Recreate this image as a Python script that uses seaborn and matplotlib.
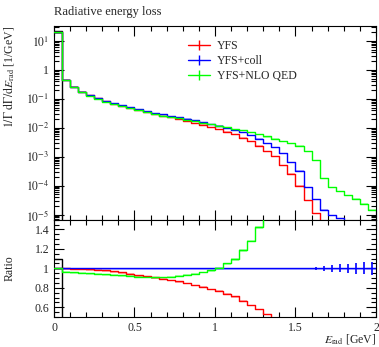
import numpy as np
import pandas as pd
import matplotlib
matplotlib.use("Agg")
import matplotlib.pyplot as plt
from matplotlib.ticker import MultipleLocator, LogLocator, FuncFormatter, NullFormatter
from matplotlib.lines import Line2D
import seaborn as sns

# 40 bins of 0.05 GeV in radiated energy
bin_edges = np.round(np.linspace(0.0, 2.0, 41), 2)

# 1/Gamma dGamma/dE_rad [1/GeV] per bin
yfs = [19.5, 0.46, 0.264, 0.177, 0.1337, 0.1034, 0.0813, 0.0679, 0.0576, 0.0482,
       0.0409, 0.0350, 0.0299, 0.0259, 0.0229, 0.0199, 0.0174, 0.0149, 0.0128, 0.0107,
       0.0091, 0.0074, 0.0059, 0.0046, 0.00347, 0.00244, 0.00159, 0.00103, 5.0e-4, 2.6e-4,
       1.0e-4, 3.2e-5, 1.1e-5, 0, 0, 0, 0, 0, 0, 0]
yfs_coll = [19.5, 0.46, 0.265, 0.178, 0.135, 0.105, 0.083, 0.070, 0.060, 0.051,
            0.044, 0.038, 0.033, 0.029, 0.026, 0.023, 0.0205, 0.018, 0.0158, 0.0136,
            0.0118, 0.0100, 0.0083, 0.0069, 0.0056, 0.0042, 0.0030, 0.0021, 0.0013, 6.6e-4,
            3.3e-4, 9.0e-5, 3.5e-5, 1.5e-5, 9.5e-6, 7.5e-6, 5.0e-6, 4.0e-6, 3.0e-6, 2.0e-6]
yfs_nlo = [19.5, 0.444, 0.254, 0.170, 0.128, 0.0992, 0.0780, 0.0655, 0.0558, 0.0472,
           0.0403, 0.0346, 0.0299, 0.0264, 0.0238, 0.0213, 0.0192, 0.0170, 0.0152, 0.0133,
           0.0119, 0.0105, 0.0091, 0.0082, 0.0072, 0.0060, 0.0050, 0.0042, 0.0035, 0.0029,
           0.0024, 0.0016, 7.5e-4, 1.8e-4, 9.0e-5, 6.5e-5, 4.7e-5, 3.6e-5, 2.4e-5, 1.5e-5]
# soft-photon peak contribution (first bin only)
soft_peak = [21.3] + [0] * 39
# relative statistical uncertainty of the YFS+coll reference
coll_relerr = [0.0] * 28 + [0.001, 0.002, 0.003, 0.004, 0.014, 0.028, 0.035, 0.041,
                            0.048, 0.055, 0.062, 0.069]

series_labels = ["YFS", "YFS+coll", "YFS+NLO QED"]
series_colors = ["#ff0000", "#0000ff", "#00ff00"]
series_values = [yfs, yfs_coll, yfs_nlo]

sns.set_style("ticks")
plt.rcParams["font.family"] = ["Liberation Serif", "DejaVu Serif"]
plt.rcParams["mathtext.fontset"] = "stix"
plt.rcParams["axes.linewidth"] = 0.8

fig = plt.figure(figsize=(3.79, 3.47), dpi=100)
ax = fig.add_axes([0.1425, 0.3669, 0.8495, 0.5596])
rax = fig.add_axes([0.1425, 0.0865, 0.8495, 0.2804], sharex=ax)


def steps(vals):
    v = np.asarray(vals, dtype=float)
    return np.append(v, v[-1])


ref = np.asarray(yfs_coll, dtype=float)

# --- main panel
rows = []
for lab, vals in zip(series_labels, series_values):
    y = steps(vals)
    for e, v in zip(bin_edges, y):
        rows.append({"E": e, "val": v if v > 0 else 1e-12, "series": lab})
df = pd.DataFrame(rows)

peak = steps(soft_peak)
ax.plot(bin_edges, np.where(peak > 0, peak, 1e-12), drawstyle="steps-post",
        color="black", lw=1.0, zorder=1)

for lab, vals, col in zip(series_labels, series_values, series_colors):
    y = steps(vals)
    ax.fill_between(bin_edges, np.where(y > 0, y * 0.92, 1e-12), np.where(y > 0, y * 1.02, 1e-12),
                    step="post", color=col, alpha=0.3, lw=0, zorder=2)

sns.lineplot(data=df, x="E", y="val", hue="series", hue_order=series_labels,
             palette=series_colors, drawstyle="steps-post", estimator=None, sort=False,
             lw=1.0, ax=ax, legend=False, zorder=3)

ax.set_yscale("log")
ax.set_ylim(6.7e-6, 34)
ax.set_xlim(0, 2)


def log_fmt(v, pos):
    e = int(round(np.log10(v)))
    return "1" if e == 0 else r"$10^{%d}$" % e


ax.yaxis.set_major_locator(LogLocator(base=10, numticks=20))
ax.yaxis.set_minor_locator(LogLocator(base=10, subs=np.arange(2, 10), numticks=20))
ax.yaxis.set_major_formatter(FuncFormatter(log_fmt))
ax.yaxis.set_minor_formatter(NullFormatter())
ax.set_ylabel(r"$1/\Gamma\ \mathrm{d}\Gamma/\mathrm{d}E_\mathrm{rad}$ [1/GeV]", loc="top",
              fontsize=8.5)
ax.set_xlabel("")
ax.tick_params(labelbottom=False)
ax.text(0.0, 1.04, "Radiative energy loss", transform=ax.transAxes, fontsize=9,
        ha="left", va="bottom")

handles = [Line2D([0], [0], color=c, lw=1.0, marker="|", markersize=7, mew=1.0)
           for c in series_colors]
ax.legend(handles, series_labels, loc="upper left", bbox_to_anchor=(0.40, 0.95),
          frameon=False, fontsize=8.5, handlelength=1.9, handletextpad=0.6,
          labelspacing=0.25, borderaxespad=0)

# --- ratio panel
rrows = []
for lab, vals in zip(series_labels, series_values):
    v = np.asarray(vals, dtype=float)
    r = np.where(ref > 0, v / np.where(ref > 0, ref, 1), np.nan)
    for e, rv in zip(bin_edges, steps(r)):
        rrows.append({"E": e, "ratio": rv, "series": lab})
rdf = pd.DataFrame(rrows)

rpeak = steps(np.asarray(soft_peak) / ref)
rax.plot(bin_edges, rpeak, drawstyle="steps-post", color="black", lw=1.0, zorder=1)

for lab, vals, col in zip(series_labels, series_values, series_colors):
    r = steps(np.asarray(vals, dtype=float) / ref)
    rax.fill_between(bin_edges, r * 0.985, r * 1.005, step="post", color=col,
                     alpha=0.3, lw=0, zorder=2)

sns.lineplot(data=rdf, x="E", y="ratio", hue="series", hue_order=series_labels,
             palette=series_colors, drawstyle="steps-post", estimator=None, sort=False,
             lw=1.0, ax=rax, legend=False, zorder=3)

centers = 0.5 * (bin_edges[:-1] + bin_edges[1:])
err = np.asarray(coll_relerr)
mask = err > 0
rax.errorbar(centers[mask], np.ones(mask.sum()), yerr=err[mask], fmt="none",
             ecolor="#0000ff", elinewidth=1.2, capsize=0, zorder=4)

rax.set_ylim(0.5, 1.5)
rax.yaxis.set_major_locator(MultipleLocator(0.2))
rax.yaxis.set_minor_locator(MultipleLocator(0.05))
rax.yaxis.set_major_formatter(FuncFormatter(lambda v, p: "%g" % round(v, 2)))
rax.set_ylabel("Ratio", fontsize=8.5)
rax.set_xlabel(r"$E_\mathrm{rad}$ [GeV]", loc="right", fontsize=8.5)
rax.xaxis.set_major_locator(MultipleLocator(0.5))
rax.xaxis.set_minor_locator(MultipleLocator(0.1))
rax.xaxis.set_major_formatter(FuncFormatter(lambda v, p: "%g" % v))

for a in (ax, rax):
    a.tick_params(which="both", direction="in", top=True, right=True, labelsize=8.5,
                  width=0.8, color="black")
    a.tick_params(which="major", length=7)
    a.tick_params(which="minor", length=3.5)
    for s in a.spines.values():
        s.set_color("black")
ax.yaxis.set_label_coords(-0.118, 1.0)
rax.yaxis.set_label_coords(-0.118, 0.5)
rax.xaxis.set_label_coords(1.0, -0.23)
rax.xaxis.label.set_va("center")

fig.savefig("out.png", dpi=100)
